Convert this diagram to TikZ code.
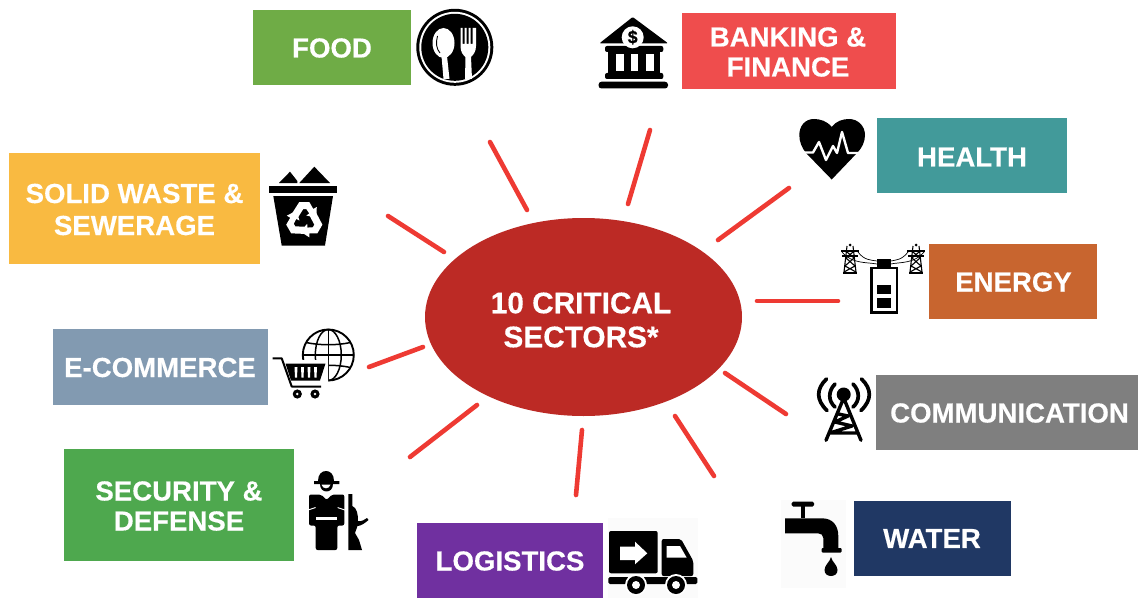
\documentclass[tikz,border=0pt]{standalone}
\usepackage{fontspec}
\usetikzlibrary{shapes.geometric}
\setmainfont{Liberation Sans}[BoldFeatures={FakeBold=0.35}]
\definecolor{cfood}{HTML}{6FAC46}
\definecolor{cbank}{HTML}{EF4D4D}
\definecolor{chealth}{HTML}{429A9A}
\definecolor{cenergy}{HTML}{C8652F}
\definecolor{ccomm}{HTML}{7F7F7F}
\definecolor{cwater}{HTML}{203864}
\definecolor{clog}{HTML}{7030A0}
\definecolor{csec}{HTML}{4EA84E}
\definecolor{cecom}{HTML}{829AB1}
\definecolor{cwaste}{HTML}{F9BA41}
\definecolor{chub}{HTML}{BC2A25}
\definecolor{cspoke}{HTML}{EE3A33}
\tikzset{
 secbox/.style n args={3}{rectangle,fill=#1,minimum width=#2pt,minimum height=#3pt,inner sep=0pt},
 seclab/.style={text=white,align=center,inner sep=0pt,font=\fontsize{27.6}{30}\selectfont\bfseries},
 spoke/.style={cspoke,line width=4.6pt,line cap=round},
 ink/.style={fill=black,draw=none},
 blank/.style={fill=white,draw=none},
 faint/.style={fill=black!1.5,draw=none}
}
\begin{document}
\begin{tikzpicture}[x=1pt,y=-1pt]
\useasboundingbox (0,0) rectangle (1138,599);
% --- sector boxes
\node[secbox={cfood}{158}{75}] (food) at (332,47.5) {};
\node[secbox={cbank}{214}{76}] (bank) at (789,51) {};
\node[secbox={chealth}{190}{75}] (health) at (972,155.5) {};
\node[secbox={cenergy}{168}{75}] (energy) at (1013,281.5) {};
\node[secbox={ccomm}{262}{75}] (comm) at (1007,412.5) {};
\node[secbox={cwater}{157}{75}] (water) at (932.5,538.5) {};
\node[secbox={clog}{186}{75}] (logi) at (510,560.5) {};
\node[secbox={csec}{230}{112}] (sec) at (179,505) {};
\node[secbox={cecom}{215}{76}] (ecom) at (160.5,367) {};
\node[secbox={cwaste}{251}{111}] (waste) at (134.5,208.5) {};
\node[seclab] (foodt) at (332,48) {FOOD};
\node[seclab] (bankt) at (788,52) {BANKING \&\\FINANCE};
\node[seclab] (healtht) at (972,157) {HEALTH};
\node[seclab] (energyt) at (1013.5,282) {ENERGY};
\node[seclab] (commt) at (1009.5,413) {COMMUNICATION};
\node[seclab] (watert) at (932,538.5) {WATER};
\node[seclab] (logit) at (510,561) {LOGISTICS};
\node[seclab] (sect) at (179,506) {SECURITY \&\\DEFENSE};
\node[seclab] (ecomt) at (160,367.5) {E-COMMERCE};
\node[seclab,font=\fontsize{27.6}{32}\selectfont\bfseries] (wastet) at (134.5,209.5) {SOLID WASTE \&\\SEWERAGE};
% --- hub
\node[ellipse,fill=chub,minimum width=317pt,minimum height=198pt,inner sep=0pt] (hub) at (583.5,317) {};
\node[seclab,font=\fontsize{29.8}{34}\selectfont\bfseries] (hubt) at (581,320) {10 CRITICAL\\SECTORS*};
% --- spokes
\foreach \n/\ax/\ay/\bx/\by in {a/527/210/490/142,b/628/204/650/130,c/718/240/789/188,d/757/301/838/301,
  e/725/373/786/414,f/675/416/714/476,g/582/430/576/495,h/477/405/410/457,i/423/347/369/367,j/444/252/388/216}{
  \coordinate (in\n) at (\ax,\ay);
  \coordinate (out\n) at (\bx,\by);
  \draw[spoke] (in\n) -- (out\n);
}
% --- food icon
\fill[ink] (454.8,47.3) circle (38.5);
\fill[blank] (454.8,47.3) circle (35.5);
\fill[ink] (454.8,47.3) circle (33.5);
\fill[blank] (443.5,43) ellipse (11 and 15);
\draw[black,line width=.9pt] (437.5,36) .. controls (435.5,43) and (436.5,49) .. (440,53);
\fill[blank] (441.5,56) -- (447,56) -- (449.5,79) -- (443.5,79) -- cycle;
\fill[blank] (460.5,28) -- (462.5,28) -- (462.5,44) -- (464.5,44) -- (464.5,28) -- (466.5,28) -- (466.5,44) -- (468.5,44) -- (468.5,28) -- (470.5,28) -- (470.5,44) -- (472.5,44) -- (472.5,28) -- (476,28) -- (476,46) .. controls (476,52) and (473,55) .. (471,57) -- (472,79) -- (465,79) -- (465.5,57) .. controls (463,55) and (460.5,52) .. (460.5,46) -- cycle;
% --- bank icon
\fill[ink,rounded corners=1pt] (632.7,17) -- (668,43.3) -- (599.5,43.3) -- cycle;
\fill[ink,rounded corners=2pt] (605,46) rectangle (663.3,52);
\fill[ink] (608,51.5) rectangle (660,74);
\fill[blank] (615.7,54) rectangle (624.3,71);
\fill[blank] (631,54) rectangle (638.3,71);
\fill[blank] (645.7,54) rectangle (654.3,71);
\fill[ink,rounded corners=2pt] (605,73) rectangle (663.3,79);
\fill[ink,rounded corners=3pt] (598.5,81.7) rectangle (668,88.5);
\fill[blank] (632.7,37.3) circle (11);
\node[text=black,inner sep=0pt,font=\fontsize{18}{18}\selectfont\bfseries] (dollar) at (632.7,37.3) {\$};
% --- heart icon
\fill[ink] (831.7,127) .. controls (827,121) and (820,119) .. (814,119) .. controls (805,119) and (799.3,126) .. (799.3,135) .. controls (799.3,142) and (802,148) .. (806,153) -- (831.7,179.5) -- (857,153) .. controls (862,148) and (865,142) .. (865,135) .. controls (865,126) and (858,119) .. (849,119) .. controls (843,119) and (836,121) .. (831.7,127) -- cycle;
\draw[white,line width=2.4pt,line join=round] (798,152.5) -- (813,152.5) -- (819,142) -- (826,160) -- (833,146) -- (837,153) -- (842,132) -- (848,153) -- (867,153);
% --- energy icon
\draw[black,line width=2.8pt] (871.4,268) rectangle (897,312.6);
\fill[ink] (877.3,259.3) rectangle (890.7,267);
\fill[ink] (877.3,285) rectangle (890.7,294.3);
\fill[ink] (877.3,298.3) rectangle (890.7,307.7);
\foreach \cx in {850,916}{
  \begin{scope}[shift={(\cx,0)}]
    \draw[black,line width=1.1pt] (-3,246) -- (-6,272) (3,246) -- (6,272) (-3,252) -- (4,258) -- (-5,266) -- (6,272) (3,252) -- (-4,258) -- (5,266) -- (-6,272);
    \draw[black,line width=1.1pt] (-9,251) -- (9,251) (-8,256) -- (8,256);
    \draw[black,line width=2pt] (-7,273) -- (7,273);
    \fill[ink] (0,245) circle (1.5);
  \end{scope}
}
\draw[black,line width=.7pt] (842,252) .. controls (852,264) and (866,262) .. (877,264);
\draw[black,line width=.7pt] (858,252) .. controls (864,260) and (870,260) .. (877,261);
\draw[black,line width=.7pt] (924,252) .. controls (914,264) and (900,262) .. (890.7,264);
\draw[black,line width=.7pt] (908,252) .. controls (902,260) and (896,260) .. (890.7,261);
% --- waste icon
\fill[ink] (279,183) -- (290,171.7) -- (297.3,181) -- (297.3,183) -- cycle;
\fill[ink] (299.3,183) -- (314.3,166.7) -- (330,183) -- cycle;
\fill[ink] (269.3,185.7) rectangle (336.7,193.3);
\fill[ink] (273.3,196) -- (333,196) -- (325,245.5) -- (281.7,245.5) -- cycle;
\foreach \a in {0,120,240}{
  \fill[blank,shift={(304.3,220)},rotate=\a] (-12,-7) -- (-5,-18) -- (5,-18) -- (9,-11) -- (12.5,-13) -- (12,-2) -- (2,-4.5) -- (5,-6.5) -- (2,-11) -- (-1,-11) -- (-6,-3) -- cycle;
}
% --- e-commerce icon
\draw[black,line width=1.9pt] (328.3,355) circle (25.5);
\draw[black,line width=1.5pt] (328.3,355) ellipse (13 and 25.5);
\draw[black,line width=1.5pt] (328.3,329.5) -- (328.3,380.5);
\draw[black,line width=1.5pt] (306,342.5) .. controls (320,345.5) and (337,345.5) .. (350.5,342.5);
\draw[black,line width=1.5pt] (303,355) -- (353.8,355);
\draw[black,line width=1.5pt] (306,367.5) .. controls (320,364.5) and (337,364.5) .. (350.5,367.5);
\fill[blank] (283,360) -- (328,360) -- (328,383) -- (322,392) -- (283,392) -- cycle;
\draw[black,line width=2pt,line join=round] (272.5,358.3) -- (281.7,358.3) -- (291.7,386.5) -- (321,386.5);
\fill[ink] (285.5,363.5) -- (325.5,363.5) -- (320,380.5) -- (291,380.5) -- cycle;
\foreach \x in {294.5,301,307.5,314}{\fill[blank] (\x,367) -- (\x+3,367) -- (\x+2.5,377.5) -- (\x+.5,377.5) -- cycle;}
\foreach \x in {297.3,315}{
  \fill[ink] (\x,394) circle (4.6);
  \fill[blank] (\x,394) circle (1.4);
}
% --- communication icon
\fill[ink] (843.7,394.5) circle (7);
\draw[black,line width=3.4pt,line cap=round,line join=round] (843.7,398) -- (826,440.3) (843.7,398) -- (861,440.3)
  (838.5,414) -- (848,416) -- (835,422) -- (852,426) -- (830,433) -- (857,433);
\draw[black,line width=3.7pt,line cap=round] (835,384) .. controls (828,391) and (828,401) .. (835,407);
\draw[black,line width=3.7pt,line cap=round] (826.5,379) .. controls (816,389) and (816,400) .. (827,410.5);
\draw[black,line width=3.7pt,line cap=round] (853,384) .. controls (860,391) and (860,401) .. (853,407);
\draw[black,line width=3.7pt,line cap=round] (861.5,379) .. controls (872,389) and (872,400) .. (861,410.5);
% --- faucet icon
\fill[faint] (781,500) rectangle (846,588);
\fill[ink,rounded corners=1.5pt] (791.7,501.7) rectangle (814,506.7);
\fill[ink] (800.7,506) rectangle (805.3,518);
\fill[ink] (785,518.3) -- (822,518.3) .. controls (833,518.3) and (838.3,526) .. (838.3,536) -- (838.3,549) -- (823.3,549) -- (823.3,538) .. controls (823.3,535) and (821,533.3) .. (818,533.3) -- (785,533.3) -- cycle;
\fill[ink,rounded corners=1pt] (821.7,548) rectangle (841.7,552.5);
\fill[ink] (831,557) .. controls (832,562) and (837.5,565) .. (837.5,570) .. controls (837.5,574) and (834.5,576) .. (831,576) .. controls (827.5,576) and (824.5,574) .. (824.5,570) .. controls (824.5,565) and (830,562) .. (831,557) -- cycle;
% --- soldier icon
\fill[ink] (314,481) -- (318,481) .. controls (318,474) and (322,471) .. (326,471) .. controls (330,471) and (334,474) .. (334,481) -- (339.3,481) -- (339.3,484) -- (314,484) -- cycle;
\fill[ink] (319.5,484) .. controls (319.5,494) and (332.5,494) .. (332.5,484) -- cycle;
\fill[blank] (321.5,484.6) .. controls (322.5,489.5) and (329.5,489.5) .. (330.5,484.6) -- cycle;
\fill[ink,rounded corners=2pt] (309,494.5) -- (321,494.5) -- (326.5,500) -- (332,494.5) -- (344.3,494.5) -- (344.3,525.5) -- (337.3,525.5) -- (337.3,550) -- (315.7,550) -- (315.7,525.5) -- (309,525.5) -- cycle;
\fill[blank] (315.7,516.7) rectangle (337.3,520);
\fill[blank] (308,509.5) -- (315.5,507) -- (315.5,508) -- (308,510.5) -- cycle;
\fill[blank] (345,509.5) -- (337.5,507) -- (337.5,508) -- (345,510.5) -- cycle;
\fill[ink] (348.3,494) -- (352.3,494) -- (352.3,506) .. controls (357,508) and (358,514) .. (358,521) .. controls (362,522) and (365,519) .. (367,518) -- (368.5,520) .. controls (365,523) and (361,526) .. (357.5,526) -- (355,533) -- (359,540) -- (362,550) -- (348.3,550) -- cycle;
% --- truck icon
\fill[faint] (608,518) rectangle (698,598);
\fill[ink,rounded corners=2pt] (609,531) rectangle (657.7,573.3);
\fill[blank] (620,546.7) -- (635,546.7) -- (635,541.7) -- (647.3,553.3) -- (635,564.3) -- (635,560) -- (620,560) -- cycle;
\fill[ink,rounded corners=2pt] (661.7,539) -- (681,539) -- (693.3,561) -- (693.3,576) -- (661.7,576) -- cycle;
\fill[blank] (666.7,546) -- (680,546) -- (686.7,557.7) -- (666.7,557.7) -- cycle;
\fill[ink,rounded corners=1.5pt] (608.3,577) rectangle (697.3,584);
\foreach \x in {636,676}{
  \fill[blank] (\x,585) circle (11);
  \fill[ink] (\x,585) circle (9);
  \fill[blank] (\x,585) circle (4);
}
\end{tikzpicture}
\end{document}
